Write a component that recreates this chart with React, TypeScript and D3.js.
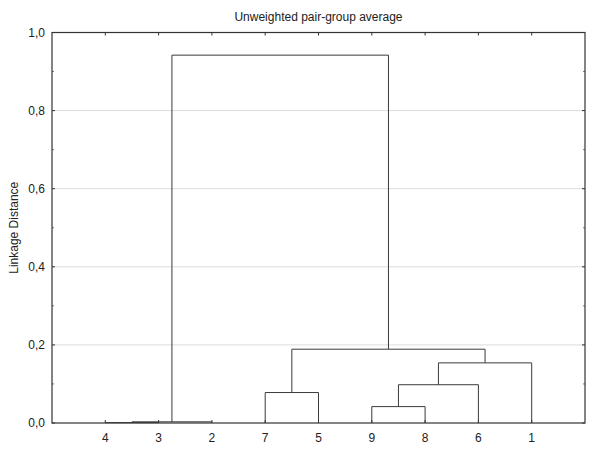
import React from "react";
import * as d3 from "d3";

const title = "Unweighted pair-group average";
const yLabel = "Linkage Distance";
// leaf labels in display order (left to right)
const leafOrder = ["4", "3", "2", "7", "5", "9", "8", "6", "1"];
// merges: clusters referred to by leaf label or by merge name
const mergeName = ["m0", "m1", "m2", "m3", "m4", "m5", "m6", "m7"];
const mergeLeft = ["4", "m0", "9", "7", "m2", "m4", "m3", "m1"];
const mergeRight = ["3", "2", "8", "5", "6", "1", "m5", "m6"];
const mergeHeight = [0.001, 0.003, 0.042, 0.078, 0.098, 0.154, 0.189, 0.942];
const yTicks = [0, 0.2, 0.4, 0.6, 0.8, 1.0];
const yMinorTicks = [0.1, 0.3, 0.5, 0.7, 0.9];

const W = 593;
const H = 450;
const M = { left: 52, right: 8, top: 32.5, bottom: 27 };

export default function App() {
  const x = d3.scaleLinear().domain([0, leafOrder.length + 1]).range([M.left, W - M.right]);
  const y = d3.scaleLinear().domain([0, 1]).range([H - M.bottom, M.top]);
  const fmt = (v: number) => d3.format(".1f")(v).replace(".", ",");

  const pos: Record<string, { x: number; h: number }> = {};
  leafOrder.forEach((l, i) => (pos[l] = { x: i + 1, h: 0 }));
  const links: [number, number][][] = [];
  mergeName.forEach((n, i) => {
    const a = pos[mergeLeft[i]];
    const b = pos[mergeRight[i]];
    const h = mergeHeight[i];
    links.push([
      [a.x, a.h],
      [a.x, h],
      [b.x, h],
      [b.x, b.h],
    ]);
    pos[n] = { x: (a.x + b.x) / 2, h };
  });
  const line = d3
    .line<[number, number]>()
    .x((d) => x(d[0]))
    .y((d) => y(d[1]));

  const x0 = x(0);
  const x1 = x(leafOrder.length + 1);
  const y0 = y(0);
  const y1 = y(1);
  const font = "Arial, 'Liberation Sans', sans-serif";
  const axisColor = "#333";

  return (
    <svg
      width={W}
      height={H}
      style={{ position: "absolute", left: 0, top: 0, background: "#fff" }}
      fontFamily={font}
    >
      <rect width={W} height={H} fill="#fff" />
      <text x={(x0 + x1) / 2} y={21} textAnchor="middle" fontSize={12} fill="#222">
        {title}
      </text>
      {/* gridlines */}
      {yTicks.slice(1, -1).map((t) => (
        <line key={"g" + t} x1={x0} x2={x1} y1={y(t)} y2={y(t)} stroke="#dcdcdc" strokeWidth={1} />
      ))}
      {/* y ticks */}
      {yTicks.map((t) => (
        <g key={"y" + t}>
          <line x1={x0} x2={x0 + 3} y1={y(t)} y2={y(t)} stroke={axisColor} />
          <line x1={x1} x2={x1 - 3} y1={y(t)} y2={y(t)} stroke={axisColor} />
          <text x={45} y={y(t)} dy="0.35em" textAnchor="end" fontSize={12} fill="#222">
            {fmt(t)}
          </text>
        </g>
      ))}
      {yMinorTicks.map((t) => (
        <g key={"ym" + t}>
          <line x1={x0} x2={x0 + 2} y1={y(t)} y2={y(t)} stroke="#777" />
          <line x1={x1} x2={x1 - 2} y1={y(t)} y2={y(t)} stroke="#777" />
        </g>
      ))}
      {/* x ticks and labels */}
      {leafOrder.map((l, i) => (
        <g key={"x" + l}>
          <line x1={x(i + 1)} x2={x(i + 1)} y1={y0} y2={y0 - 3} stroke={axisColor} />
          <line x1={x(i + 1)} x2={x(i + 1)} y1={y1} y2={y1 + 3} stroke={axisColor} />
          <text x={x(i + 1)} y={442} textAnchor="middle" fontSize={12} fill="#222">
            {l}
          </text>
        </g>
      ))}
      <text
        transform={`translate(18,${(y0 + y1) / 2}) rotate(-90)`}
        textAnchor="middle"
        fontSize={12}
        fill="#222"
      >
        {yLabel}
      </text>
      {/* dendrogram */}
      {links.map((pts, i) => (
        <path key={"l" + i} d={line(pts) || ""} fill="none" stroke="#3a3a3a" strokeWidth={1} />
      ))}
      {/* frame */}
      <rect x={x0} y={y1} width={x1 - x0} height={y0 - y1} fill="none" stroke={axisColor} strokeWidth={1.2} />
    </svg>
  );
}
